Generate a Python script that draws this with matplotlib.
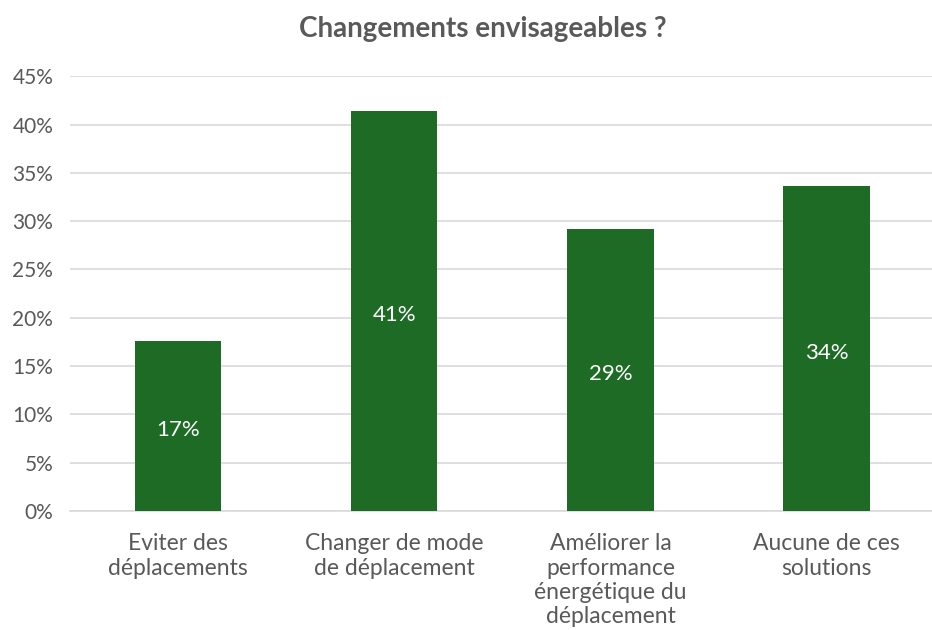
import numpy as np
import matplotlib.pyplot as plt

categories = ["Eviter des\ndéplacements", "Changer de mode\nde déplacement",
              "Améliorer la\nperformance\nénergétique du\ndéplacement",
              "Aucune de ces\nsolutions"]
values = [17.6, 41.4, 29.2, 33.6]
labels = ["17%", "41%", "29%", "34%"]
yticks = [0, 5, 10, 15, 20, 25, 30, 35, 40, 45]

plt.rcParams['font.family'] = ['Lato', 'DejaVu Sans']
grey = '#595959'

fig = plt.figure(figsize=(9.32, 6.3), dpi=100)
ax = fig.add_axes([0.075, 0.189, 0.928, 0.69])

x = np.arange(len(categories))
bars = ax.bar(x, values, width=0.4, color='#1e6b26', zorder=3)

# etiquettes au milieu des barres
for b, lab in zip(bars, labels):
    ax.text(b.get_x() + b.get_width() / 2, b.get_height() / 2 - 0.4, lab,
            ha='center', va='center', color='white', fontsize=16, zorder=4)

ax.set_xlim(-0.5, 3.5)
ax.set_ylim(0, 45)
ax.set_yticks(yticks)
ax.set_yticklabels([f"{t}%" for t in yticks], fontsize=15)
ax.set_xticks(x)
ax.set_xticklabels(categories, linespacing=1.2, fontsize=16.5)
ax.tick_params(axis='both', colors=grey, length=0)
ax.tick_params(axis='x', pad=16)
ax.tick_params(axis='y', pad=12)

ax.grid(axis='y', color='#d9d9d9', linewidth=1.2, zorder=0)
for s in ['top', 'right', 'left']:
    ax.spines[s].set_visible(False)
ax.spines['bottom'].set_color('#d9d9d9')
ax.spines['bottom'].set_linewidth(1.2)

fig.suptitle('Changements envisageables ?', x=0.518, y=0.975, fontsize=20,
             fontweight='bold', color=grey)

plt.savefig('out.png')
